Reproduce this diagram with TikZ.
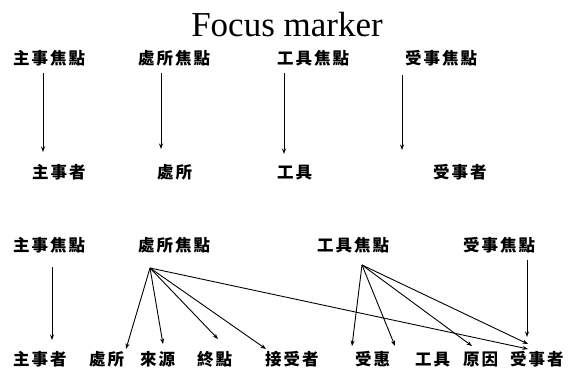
\documentclass[tikz,border=0pt]{standalone}
\usepackage{fontspec}
\setmainfont{Liberation Serif}
\newfontfamily\cjk{Noto Sans CJK TC}[LetterSpace=12]
\usetikzlibrary{arrows.meta}
\tikzset{
  lab/.style={inner sep=0pt, anchor=base west, font=\cjk\bfseries\fontsize{16.5}{16.5}\selectfont},
  arr/.style={draw=black, line width=0.9pt, -{Stealth[length=5.5pt,width=4pt]}},
}
\begin{document}
\begin{tikzpicture}[x=1pt,y=-1pt]
\useasboundingbox (0,0) rectangle (571,372);
\node[inner sep=0pt, anchor=base, font=\fontsize{35}{35}\selectfont] (title) at (287,36) {Focus marker};

% Row 1
\node[lab] (t1) at (13,64) {主事焦點};
\node[lab] (t2) at (138,64) {處所焦點};
\node[lab] (t3) at (277,64) {工具焦點};
\node[lab] (t4) at (405,64) {受事焦點};
\node[lab] (b1) at (32,178) {主事者};
\node[lab] (b2) at (157,178) {處所};
\node[lab] (b3) at (277,178) {工具};
\node[lab] (b4) at (433,178) {受事者};
\coordinate (s1) at (43,73);  \coordinate (e1) at (43,152);
\coordinate (s2) at (161,73); \coordinate (e2) at (161,149);
\coordinate (s3) at (284,73); \coordinate (e3) at (284,154);
\coordinate (s4) at (402,75); \coordinate (e4) at (402,150);
\draw[arr] (s1) -- (e1);
\draw[arr] (s2) -- (e2);
\draw[arr] (s3) -- (e3);
\draw[arr] (s4) -- (e4);

% Row 2
\node[lab] (u1) at (13,251) {主事焦點};
\node[lab] (u2) at (138,251) {處所焦點};
\node[lab] (u3) at (317,251) {工具焦點};
\node[lab] (u4) at (463,251) {受事焦點};
\node[lab] (v1) at (13,365) {主事者};
\node[lab] (v2) at (89,365) {處所};
\node[lab] (v3) at (140,365) {來源};
\node[lab] (v4) at (197,365) {終點};
\node[lab] (v5) at (265,365) {接受者};
\node[lab] (v6) at (355,365) {受惠};
\node[lab] (v7) at (415,365) {工具};
\node[lab] (v8) at (463,365) {原因};
\node[lab] (v9) at (510,365) {受事者};

\coordinate (p1) at (52,267);  \coordinate (q1) at (52,340);
\coordinate (p2) at (150,268);
\coordinate (p3) at (362,265);
\coordinate (p4) at (527,260); \coordinate (q4) at (527,337);
\coordinate (r2) at (126,349);
\coordinate (r3) at (163,344);
\coordinate (r4) at (218,339);
\coordinate (r5) at (266,349);
\coordinate (r9a) at (528,349);
\coordinate (r6) at (352,346);
\coordinate (r7) at (395,346);
\coordinate (r8) at (472,346);
\coordinate (r9b) at (528,344);

\draw[arr] (p1) -- (q1);
\draw[arr] (p2) -- (r2);
\draw[arr] (p2) -- (r3);
\draw[arr] (p2) -- (r4);
\draw[arr] (p2) -- (r5);
\draw[arr] (p2) -- (r9a);
\draw[arr] (p3) -- (r6);
\draw[arr] (p3) -- (r7);
\draw[arr] (p3) -- (r8);
\draw[arr] (p3) -- (r9b);
\draw[arr] (p4) -- (q4);
\end{tikzpicture}
\end{document}
